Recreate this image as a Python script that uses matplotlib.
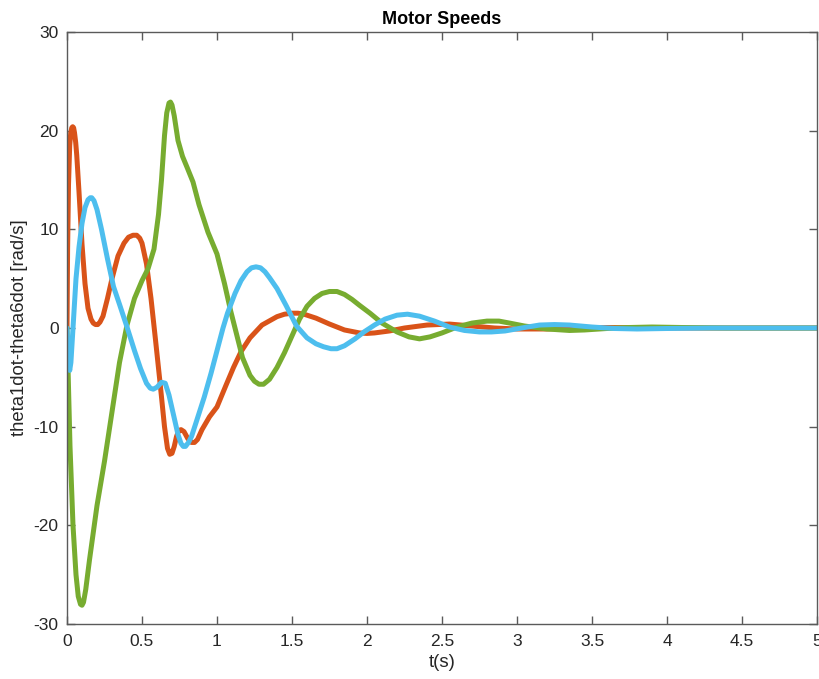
import matplotlib
matplotlib.use("Agg")
import matplotlib.pyplot as plt

# ---- data ----
t_orange = [0.000, 0.004, 0.010, 0.018, 0.025, 0.032, 0.038, 0.044, 0.050, 0.058,
            0.065, 0.080, 0.100, 0.120, 0.140, 0.160, 0.175, 0.190, 0.205, 0.220,
            0.240, 0.270, 0.300, 0.340, 0.380, 0.410, 0.440, 0.465, 0.485, 0.500,
            0.530, 0.560, 0.590, 0.620, 0.650, 0.670, 0.685, 0.700, 0.715, 0.730,
            0.745, 0.760, 0.780, 0.805, 0.830, 0.850, 0.870, 0.900, 0.950, 1.000,
            1.060, 1.110, 1.160, 1.220, 1.300, 1.400, 1.450, 1.500, 1.540, 1.580,
            1.660, 1.750, 1.850, 1.950, 2.000, 2.050, 2.150, 2.250, 2.400, 2.550,
            2.700, 2.850, 3.000, 3.200, 3.400, 3.600, 4.000, 5.000]
v_orange = [0.0, 8.0, 14.5, 18.5, 19.8, 20.3, 20.4, 20.3, 19.8, 18.8,
            17.5, 13.8, 8.5, 4.5, 2.0, 0.9, 0.5, 0.35, 0.35, 0.6,
            1.2, 3.0, 5.0, 7.3, 8.6, 9.2, 9.4, 9.4, 9.1, 8.6,
            6.5, 3.0, -1.2, -5.5, -10.0, -12.2, -12.8, -12.7, -12.0, -11.0,
            -10.4, -10.3, -10.5, -11.2, -11.6, -11.6, -11.3, -10.3, -9.0, -8.0,
            -5.8, -4.0, -2.4, -1.0, 0.3, 1.15, 1.4, 1.5, 1.5, 1.4,
            1.0, 0.4, -0.2, -0.5, -0.55, -0.5, -0.3, 0.0, 0.3, 0.4,
            0.2, 0.0, -0.1, -0.1, 0.0, 0.05, 0.0, 0.0]

t_green = [0.000, 0.010, 0.020, 0.040, 0.060, 0.075, 0.090, 0.100, 0.110, 0.125,
           0.150, 0.200, 0.250, 0.300, 0.350, 0.400, 0.450, 0.500, 0.540, 0.580,
           0.610, 0.630, 0.650, 0.665, 0.680, 0.690, 0.700, 0.715, 0.740, 0.770,
           0.800, 0.840, 0.880, 0.940, 1.000, 1.050, 1.090, 1.120, 1.170, 1.220,
           1.250, 1.280, 1.310, 1.350, 1.400, 1.450, 1.500, 1.550, 1.600, 1.650,
           1.700, 1.750, 1.800, 1.850, 1.900, 1.950, 2.020, 2.100, 2.200, 2.280,
           2.350, 2.420, 2.500, 2.600, 2.700, 2.800, 2.880, 2.950, 3.050, 3.200,
           3.350, 3.450, 3.600, 3.750, 3.900, 4.100, 4.400, 5.000]
v_green = [0.0, -6.0, -12.0, -20.0, -25.0, -27.2, -28.0, -28.1, -27.8, -26.5,
           -23.5, -18.0, -13.5, -8.5, -3.5, 0.3, 3.0, 4.8, 6.0, 8.0,
           11.5, 15.0, 19.5, 21.8, 22.8, 22.9, 22.6, 21.5, 19.0, 17.4,
           16.3, 14.8, 12.5, 9.7, 7.5, 4.5, 1.8, 0.0, -3.0, -4.8,
           -5.4, -5.7, -5.7, -5.2, -4.0, -2.5, -0.8, 0.9, 2.2, 3.0,
           3.5, 3.7, 3.7, 3.4, 2.9, 2.3, 1.5, 0.5, -0.4, -0.9,
           -1.1, -0.9, -0.5, 0.1, 0.5, 0.7, 0.7, 0.5, 0.2, -0.1,
           -0.25, -0.2, -0.05, 0.05, 0.1, 0.05, 0.0, 0.0]

t_blue = [0.000, 0.008, 0.018, 0.026, 0.040, 0.060, 0.080, 0.100, 0.120, 0.140,
          0.155, 0.165, 0.180, 0.200, 0.230, 0.270, 0.310, 0.350, 0.400, 0.450,
          0.490, 0.530, 0.555, 0.575, 0.600, 0.630, 0.655, 0.680, 0.710, 0.740,
          0.760, 0.775, 0.790, 0.810, 0.830, 0.860, 0.915, 0.960, 1.000, 1.040,
          1.070, 1.120, 1.160, 1.200, 1.230, 1.260, 1.290, 1.320, 1.350, 1.400,
          1.460, 1.530, 1.600, 1.660, 1.710, 1.760, 1.800, 1.850, 1.920, 1.980,
          2.050, 2.120, 2.200, 2.270, 2.350, 2.450, 2.550, 2.650, 2.750, 2.830,
          2.920, 3.050, 3.150, 3.250, 3.350, 3.500, 3.650, 3.800, 4.000, 4.300,
          5.000]
v_blue = [0.0, -3.0, -4.3, -3.5, 0.0, 5.0, 8.2, 10.6, 12.2, 13.0,
          13.2, 13.2, 12.9, 12.0, 10.0, 7.0, 4.2, 2.4, 0.1, -2.3,
          -4.1, -5.6, -6.1, -6.2, -6.0, -5.5, -5.6, -6.8, -8.8, -10.8,
          -11.7, -12.0, -12.0, -11.6, -11.0, -9.6, -7.0, -4.6, -2.3, 0.0,
          1.5, 3.5, 4.8, 5.7, 6.1, 6.2, 6.1, 5.7, 5.1, 4.0,
          2.3, 0.2, -1.0, -1.6, -1.9, -2.1, -2.1, -1.8, -1.1, -0.4,
          0.3, 0.9, 1.3, 1.4, 1.2, 0.7, 0.1, -0.25, -0.4, -0.4,
          -0.3, 0.05, 0.3, 0.35, 0.3, 0.1, -0.05, -0.1, -0.05, 0.0,
          0.0]

x_ticks = [0, 0.5, 1, 1.5, 2, 2.5, 3, 3.5, 4, 4.5, 5]
x_ticklabels = ["0", "0.5", "1", "1.5", "2", "2.5", "3", "3.5", "4", "4.5", "5"]
y_ticks = [-30, -20, -10, 0, 10, 20, 30]
y_ticklabels = ["-30", "-20", "-10", "0", "10", "20", "30"]

# ---- figure ----
plt.rcParams['font.family'] = ['Liberation Sans', 'DejaVu Sans']
fig = plt.figure(figsize=(8.2, 6.79), dpi=100)
ax = fig.add_axes([67/820, 55/679, 750/820, 592/679])

lw = 3.6
style = dict(lw=lw, solid_joinstyle='round', solid_capstyle='round')
ax.plot(t_orange, v_orange, color='#D95319', **style)
ax.plot(t_green, v_green, color='#77AC30', **style)
ax.plot(t_blue, v_blue, color='#4DBEEE', **style)

ax.set_xlim(0, 5)
ax.set_ylim(-30, 30)
ax.set_xticks(x_ticks)
ax.set_xticklabels(x_ticklabels)
ax.set_yticks(y_ticks)
ax.set_yticklabels(y_ticklabels)

axcol = '#262626'
for s in ax.spines.values():
    s.set_color('#5a5a5a')
    s.set_linewidth(1.0)
ax.tick_params(direction='in', top=True, right=True, length=6, width=1.0,
               color='#5a5a5a', labelcolor=axcol, labelsize=12.5)
ax.tick_params(axis='x', pad=7)
ax.tick_params(axis='y', pad=6)

ax.set_title('Motor Speeds', fontsize=13, fontweight='bold', color='black', pad=6)
ax.set_xlabel('t(s)', fontsize=13.3, color=axcol, labelpad=4)
ax.set_ylabel('theta1dot-theta6dot [rad/s]', fontsize=13.3, color=axcol, labelpad=4)

fig.savefig('out.png', dpi=100)
